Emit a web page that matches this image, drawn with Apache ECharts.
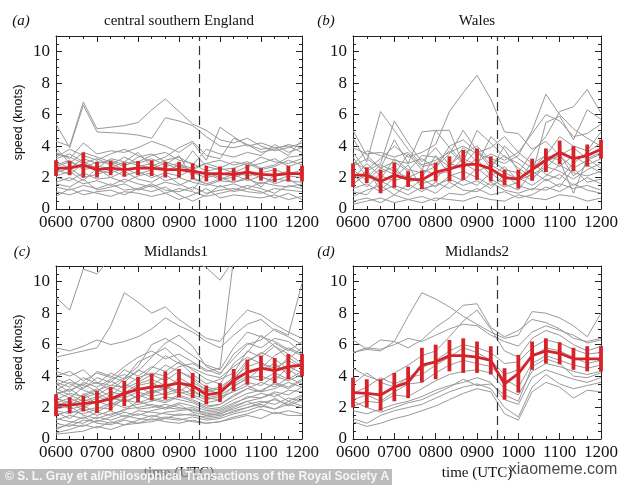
<!DOCTYPE html>
<html>
<head>
<meta charset="utf-8">
<script src="https://cdn.jsdelivr.net/npm/echarts@6/dist/echarts.min.js"></script>
<style>
html,body{margin:0;padding:0;background:#fff;}
#chart{width:630px;height:485px;}
</style>
</head>
<body>
<div id="chart"></div>
<script>
// time of each sample, minutes after midnight (0600 ... 1200 every 20 min)
const times = [360,380,400,420,440,460,480,500,520,540,560,580,600,620,640,660,680,700,720];
const tickLabels = {360:'0600',420:'0700',480:'0800',540:'0900',600:'1000',660:'1100',720:'1200'};
const eclipseMax = 570; // 0930 UTC
const panelTitles = ['central southern England','Wales','Midlands1','Midlands2'];
const panelLetters = ['(a)','(b)','(c)','(d)'];

// red mean series and error half-widths
const meanA = [2.6,2.6,2.8,2.5,2.6,2.5,2.6,2.6,2.5,2.5,2.4,2.25,2.25,2.2,2.35,2.2,2.15,2.25,2.25];
const errA  = [0.5,0.45,0.8,0.5,0.45,0.45,0.45,0.5,0.5,0.5,0.5,0.5,0.45,0.4,0.45,0.4,0.45,0.5,0.5];
const meanB = [2.15,2.15,1.75,2.15,1.9,1.85,2.35,2.55,2.8,2.85,2.55,2.0,1.9,2.5,3.1,3.6,3.2,3.4,3.8];
const errB  = [0.75,0.5,0.75,0.8,0.5,0.6,0.6,0.8,0.95,1.0,0.8,0.5,0.6,0.7,0.75,0.75,0.8,0.7,0.6];
const meanC = [2.15,2.15,2.25,2.35,2.55,2.9,3.15,3.3,3.4,3.55,3.4,2.8,2.95,3.75,4.25,4.5,4.35,4.6,4.7];
const errC  = [0.7,0.5,0.5,0.7,0.75,0.8,0.8,0.85,0.9,0.9,0.8,0.6,0.6,0.7,0.8,0.8,0.8,0.8,0.7];
const meanD = [2.95,2.9,2.8,3.3,3.6,4.7,4.9,5.3,5.3,5.2,5.0,3.5,4.15,5.3,5.6,5.45,5.1,5.1,5.1];
const errD  = [0.95,0.9,1.0,0.9,1.0,1.1,1.1,1.0,1.1,1.0,0.9,1.0,1.2,0.9,0.8,0.7,0.7,0.8,0.8];

// individual station series (grey)
const greyA = [
 [4.3,4.0,6.8,5.1,5.2,5.3,5.5,6.3,7.0,6.2,5.4,5.0,4.4,4.2,4.5,4.0,3.7,3.9,4.2],
 [5.4,3.9,6.6,4.9,4.85,4.8,4.7,4.5,5.8,5.6,5.3,4.6,4.0,3.9,4.1,3.6,3.8,4.1,3.9],
 [3.6,3.2,4.2,3.5,3.7,3.6,3.9,4.3,4.0,3.6,4.2,3.1,5.2,4.6,4.0,4.2,3.9,3.4,4.4],
 [3.3,3.8,3.4,3.1,3.5,3.8,3.4,3.0,3.3,3.9,4.3,3.4,3.2,4.5,4.1,3.8,3.9,4.0,3.6],
 [3.0,2.6,3.2,2.9,3.1,2.8,3.0,3.4,3.6,3.1,2.9,2.4,2.6,3.0,2.8,3.3,3.0,2.9,3.2],
 [2.8,3.1,2.5,2.7,2.6,3.0,2.8,2.6,2.9,2.5,3.7,2.7,2.5,2.6,2.9,2.5,2.7,3.1,2.8],
 [2.5,2.2,2.9,2.4,2.3,2.6,2.2,2.5,2.7,2.9,2.3,2.0,2.2,2.4,2.1,2.3,2.5,2.2,2.5],
 [2.3,2.6,2.0,2.2,2.5,2.1,2.4,2.0,2.3,2.1,2.5,2.2,1.9,2.0,2.3,2.0,1.8,2.1,2.0],
 [2.0,1.8,2.3,1.9,2.0,1.7,2.1,2.3,1.8,2.0,1.7,1.5,1.8,1.7,1.9,1.6,1.9,1.8,1.7],
 [1.7,2.0,1.6,1.8,1.5,1.9,1.6,1.4,1.7,1.5,1.9,1.6,1.4,1.6,1.3,1.7,1.5,1.4,1.6],
 [1.4,1.2,1.5,1.3,1.6,1.2,1.3,1.6,1.2,1.1,1.4,1.0,1.2,1.3,1.1,1.0,1.3,1.2,1.1],
 [1.1,0.9,1.2,1.0,0.8,1.1,1.0,0.8,1.0,0.6,0.9,1.3,0.7,0.9,0.8,0.7,0.9,0.6,0.8],
 [3.5,3.3,2.9,3.2,2.8,3.3,2.9,3.2,2.8,3.4,2.0,1.6,1.9,2.2,1.8,2.1,1.6,1.9,1.4],
 [3.9,2.9,3.6,3.3,3.0,2.7,3.3,3.5,3.0,2.7,2.5,2.9,2.6,2.3,2.7,2.9,3.2,2.7,3.0],
 [2.1,2.4,1.8,2.6,2.0,2.4,1.9,1.7,2.2,1.6,1.2,2.3,2.0,1.7,2.0,1.4,2.2,2.4,2.1],
 [1.6,1.4,1.9,1.2,1.4,1.6,1.2,1.5,1.0,1.3,1.1,0.8,1.0,1.2,1.5,1.3,1.0,1.5,1.3],
 [2.7,3.0,2.6,3.0,2.9,2.5,2.7,2.9,2.4,2.8,2.6,2.9,3.1,2.8,3.0,2.6,2.8,3.3,3.4],
 [0.8,1.3,0.9,1.1,1.2,0.9,1.3,1.1,1.4,0.9,0.5,0.9,1.5,1.1,1.3,1.1,0.7,1.0,0.6],
 [3.2,3.5,3.0,2.6,3.2,3.0,3.6,2.7,3.1,3.3,2.8,3.8,3.5,3.3,3.6,3.4,4.1,3.6,3.9]
];
const greyB = [
 [3.0,2.5,3.2,4.0,3.3,3.6,4.1,6.2,7.4,8.5,7.0,4.9,4.8,3.8,4.3,3.4,3.9,3.2,3.6],
 [4.5,3.0,6.2,5.0,3.8,2.8,3.1,3.6,4.0,3.5,3.2,2.9,3.4,5.0,7.3,6.0,5.1,4.5,4.0],
 [3.6,2.4,2.9,5.6,4.2,3.0,3.9,2.8,3.5,4.0,3.1,2.5,2.3,3.6,4.6,6.2,6.5,7.6,6.1],
 [2.8,3.7,3.4,3.1,2.9,4.9,5.0,3.9,3.0,5.0,4.2,3.3,2.9,2.2,5.5,5.9,4.4,6.3,5.7],
 [1.6,2.2,1.9,3.2,2.5,2.3,2.7,3.5,5.0,3.7,2.6,4.0,3.2,2.6,3.4,4.6,4.0,3.7,4.9],
 [2.5,1.8,2.6,2.2,3.5,2.5,2.2,2.4,3.2,2.8,4.6,3.8,2.4,1.8,3.0,3.4,2.6,3.1,3.5],
 [1.9,2.9,2.1,1.8,2.1,1.6,1.9,2.9,2.6,3.2,2.1,2.7,1.8,2.2,2.7,2.4,1.9,2.5,2.9],
 [1.3,1.6,1.1,1.5,1.2,1.9,1.4,2.1,2.4,2.0,1.5,1.9,2.0,1.5,2.1,2.8,2.3,2.1,2.4],
 [0.8,1.2,1.5,0.9,1.6,1.1,1.7,1.3,1.9,1.5,2.3,1.6,1.2,2.4,1.8,2.2,1.5,2.0,1.6],
 [0.5,0.7,0.4,0.9,0.6,0.8,0.5,1.0,0.9,1.3,0.9,1.1,0.7,0.9,1.4,1.1,1.6,1.2,1.0],
 [5.0,3.4,2.6,3.0,2.4,3.4,3.3,2.7,3.9,3.0,3.5,3.1,3.6,2.9,3.4,3.1,1.0,3.2,2.6],
 [3.9,3.5,3.6,3.3,3.6,2.7,2.9,3.7,2.9,2.4,2.8,2.3,1.9,2.6,3.2,2.7,3.4,2.8,3.2],
 [2.2,1.4,2.3,2.7,1.7,2.0,3.4,2.2,1.8,2.6,1.9,1.4,1.7,3.0,2.2,1.9,2.9,3.6,4.2],
 [1.1,0.9,1.8,1.3,0.9,1.4,1.0,1.7,1.2,1.1,1.7,1.2,1.0,1.3,1.2,1.6,1.3,1.5,1.2],
 [0.3,0.5,0.7,0.4,0.6,0.4,0.7,0.6,0.5,0.8,0.6,0.5,0.9,0.7,0.6,0.9,0.8,0.5,0.7],
 [2.7,3.2,2.6,4.4,2.9,3.2,2.6,4.0,4.4,3.6,3.9,4.6,3.6,4.8,6.0,5.6,4.6,4.8,5.4],
 [3.3,2.0,2.8,2.4,2.0,2.4,5.0,5.0,2.8,3.8,2.8,3.4,2.6,2.0,2.6,3.5,2.1,2.8,2.3],
 [1.5,2.5,1.2,2.0,2.8,1.3,1.5,1.9,1.5,1.8,1.3,2.2,1.5,1.2,1.9,1.4,2.6,1.7,1.9]
];
const greyC = [
 [9.0,8.2,10.8,10.5,11.5,12.0,12.0,11.6,11.2,11.8,11.3,10.9,10.1,11.4,12.0,12.0,12.0,12.0,12.0],
 [5.2,5.4,5.6,5.8,7.2,9.3,8.7,8.0,8.4,7.6,7.0,6.4,6.2,7.3,8.2,7.9,7.3,6.8,6.4],
 [5.8,5.6,5.9,6.3,6.0,6.2,6.5,7.0,7.7,7.2,6.8,6.2,5.8,6.6,7.3,7.6,6.9,6.5,6.0],
 [3.0,2.6,3.3,3.6,3.1,3.8,4.3,5.2,6.1,6.6,5.9,4.6,4.2,5.1,6.0,6.3,7.0,6.6,9.9],
 [2.5,2.9,2.7,3.1,3.4,3.3,3.9,4.2,4.0,4.6,4.8,4.3,4.5,11.5,12,12,12,12,12],
 [4.0,4.3,3.7,4.2,3.9,4.6,5.2,5.6,5.1,5.4,4.9,4.4,4.1,5.4,6.1,5.8,6.4,6.2,5.5],
 [3.6,3.3,3.9,3.5,4.2,3.8,4.9,5.3,5.8,5.0,4.4,3.8,3.5,4.8,5.5,6.6,5.9,5.1,5.8],
 [3.4,3.8,3.2,3.9,3.6,4.4,4.0,4.6,4.3,4.9,4.1,3.5,3.8,4.2,5.6,5.2,5.9,5.4,4.8],
 [2.9,3.1,3.5,3.0,3.7,3.2,3.6,4.1,3.7,4.3,3.8,3.1,3.3,3.9,4.6,4.9,4.3,5.2,4.6],
 [2.6,2.3,2.8,3.2,2.7,3.5,3.1,3.4,4.0,3.5,3.3,2.8,3.0,3.6,4.2,4.4,4.8,4.1,5.0],
 [2.3,2.6,2.2,2.6,3.0,2.8,3.3,2.9,3.2,3.7,3.0,2.6,2.8,3.3,3.9,4.0,3.7,4.6,4.2],
 [2.0,2.2,2.5,2.3,2.6,2.4,2.7,3.1,2.8,3.0,2.7,2.3,2.5,3.1,3.6,3.4,4.0,3.7,4.1],
 [1.8,1.6,2.0,2.4,2.1,2.5,2.3,2.6,2.4,2.8,2.5,2.1,2.2,2.8,3.2,3.6,3.3,3.9,3.5],
 [1.5,1.8,1.6,1.9,2.3,2.0,2.2,2.4,2.7,2.5,2.3,1.9,2.0,2.5,2.9,3.1,3.5,3.2,3.7],
 [1.2,1.5,1.3,1.7,1.5,1.9,2.0,2.2,2.0,2.3,2.1,1.8,1.9,2.3,2.6,2.9,2.7,3.1,3.0],
 [1.0,0.8,1.2,1.1,1.4,1.7,1.5,1.8,2.0,1.9,2.0,1.6,1.7,2.1,2.4,2.6,3.0,2.8,3.3],
 [0.7,0.9,0.8,1.2,1.0,1.3,1.6,1.4,1.7,1.8,1.9,1.5,1.6,1.9,2.2,2.4,2.2,2.6,2.4],
 [0.4,0.6,0.9,0.7,1.1,0.9,1.2,1.5,1.3,1.6,1.5,1.4,1.5,1.7,2.0,2.3,2.5,2.2,2.7],
 [0.3,0.4,0.5,0.8,0.6,0.9,1.0,1.1,1.3,1.2,1.4,1.2,1.3,1.6,1.8,2.1,1.9,2.4,2.1],
 [3.8,3.5,3.1,2.8,3.3,2.9,3.5,3.8,3.4,3.0,3.6,3.1,2.9,3.7,4.9,5.5,5.1,4.4,3.9],
 [3.2,2.8,2.4,2.7,2.4,3.0,2.6,3.0,3.3,2.9,3.1,2.6,2.5,3.4,3.8,4.5,5.3,5.8,5.4],
 [2.7,2.0,2.9,2.2,2.8,2.3,2.8,2.5,2.3,2.7,2.4,2.0,2.2,2.7,3.2,3.0,3.6,3.3,3.8],
 [2.1,2.4,1.8,2.0,1.9,2.6,1.9,2.0,2.2,2.0,1.8,1.7,1.8,2.2,2.7,2.6,2.9,2.4,2.8],
 [1.7,1.3,1.9,1.5,1.8,1.4,1.8,1.7,1.6,1.5,1.6,1.3,1.4,1.8,2.0,2.2,1.9,2.2,2.0],
 [1.3,1.1,1.0,1.4,1.2,1.5,1.3,1.2,1.4,1.3,1.1,1.0,1.1,1.4,1.6,1.9,1.6,1.8,1.6],
 [4.3,4.0,4.4,3.6,3.4,3.9,4.6,6.0,6.4,5.9,5.3,4.7,4.4,5.8,6.8,6.5,6.2,5.7,5.3],
 [3.1,3.6,3.4,4.3,4.0,3.6,4.4,4.0,4.7,4.3,3.9,3.3,3.1,4.0,5.0,5.4,6.1,5.6,6.2],
 [2.4,1.9,2.1,1.7,2.2,2.6,3.0,2.7,2.9,3.2,2.8,2.5,2.7,3.0,3.4,3.0,3.2,3.6,3.3],
 [0.6,1.0,1.4,1.0,0.9,1.2,1.0,1.3,1.1,1.0,1.2,1.0,1.1,1.3,1.5,1.3,1.7,1.5,1.5],
 [1.9,2.1,1.5,1.3,1.6,1.8,2.4,2.1,1.9,2.2,1.7,1.5,1.6,2.0,2.4,2.0,2.6,2.1,2.5],
 [3.5,3.0,3.6,3.3,3.8,4.1,3.7,4.5,5.3,4.8,4.5,4.1,3.9,4.6,5.2,4.8,4.5,5.0,4.5],
 [2.8,3.2,2.6,2.9,2.5,2.7,3.4,3.6,3.1,3.9,3.4,3.0,3.2,3.5,4.0,3.7,4.2,3.8,4.3]
];
const greyD = [
 [6.3,5.7,6.3,6.2,5.8,6.3,7.1,7.7,8.5,8.6,7.1,6.5,6.9,7.6,7.4,7.0,6.4,6.2,6.4],
 [5.5,5.7,5.6,6.2,7.8,9.3,8.9,8.4,7.8,7.3,6.8,6.4,6.6,8.1,8.0,7.7,7.2,6.5,8.0],
 [5.5,5.8,5.7,6.0,6.4,6.2,6.6,7.0,7.3,7.2,6.6,6.2,5.9,6.8,7.2,6.9,6.6,6.1,6.3],
 [4.5,4.0,3.7,4.2,4.7,5.3,5.6,6.5,7.5,8.2,7.0,5.6,5.2,6.4,6.9,6.6,6.0,5.6,5.9],
 [3.5,4.2,3.6,3.3,3.9,4.5,5.0,5.6,6.0,5.8,5.5,4.8,4.9,5.8,6.3,6.1,5.7,5.4,5.5],
 [2.9,3.3,3.9,3.5,3.9,4.1,4.7,5.2,5.8,5.5,5.0,4.1,4.4,5.2,5.8,5.6,5.2,4.8,5.0],
 [2.5,2.8,2.4,3.0,3.5,3.6,4.2,4.7,5.0,4.8,4.6,3.8,3.3,4.8,5.3,5.0,4.7,4.5,4.7],
 [2.1,2.4,2.3,2.8,2.7,3.2,3.7,4.1,4.3,4.4,4.2,3.2,2.8,4.3,4.8,4.6,4.3,4.1,4.3],
 [1.8,1.6,1.9,2.2,2.4,2.7,3.1,3.4,3.6,3.9,3.6,2.5,2.2,3.9,4.4,4.1,3.8,3.6,3.9],
 [1.3,1.0,1.5,1.8,2.0,2.2,2.6,3.0,3.3,3.5,3.2,2.0,1.4,3.3,4.1,3.5,3.2,3.4,3.6],
 [1.1,0.8,1.0,1.3,1.5,1.8,2.1,2.5,2.9,3.2,3.0,1.6,1.2,3.0,3.6,3.3,2.6,3.1,3.0],
 [2.4,2.0,1.7,2.0,2.3,2.5,2.9,3.3,3.8,3.4,3.5,2.8,2.4,4.6,5.1,4.8,4.0,3.9,4.2]
];

const panels = [
  {grey: greyA, mean: meanA, err: errA, box: {left:56, top:36, width:246, height:173}, showY: true, showXName: false},
  {grey: greyB, mean: meanB, err: errB, box: {left:353, top:36, width:248, height:173}, showY: false, showXName: false},
  {grey: greyC, mean: meanC, err: errC, box: {left:56, top:266, width:246, height:173}, showY: true, showXName: true},
  {grey: greyD, mean: meanD, err: errD, box: {left:353, top:266, width:248, height:173}, showY: false, showXName: true}
];

const RED = '#d6232a';
const GREY = '#999999';
const SERIF = '"Liberation Serif", "DejaVu Serif", serif';
const SANS = '"Liberation Sans", Arial, sans-serif';

const grid = [], xAxis = [], yAxis = [], series = [];
const tickCommon = {show: true, inside: true, length: 6, lineStyle: {color: '#222', width: 1}};
const lineCommon = {show: true, onZero: false, lineStyle: {color: '#222', width: 1}};

panels.forEach((p, i) => {
  grid.push(Object.assign({}, p.box));
  const baseX = {
    type: 'value', gridIndex: i, min: 360, max: 720, interval: 60,
    axisLine: lineCommon, axisTick: tickCommon,
    minorTick: {show: true, splitNumber: 3, length: 3, lineStyle: {color: '#222', width: 1}},
    splitLine: {show: false}, minorSplitLine: {show: false}
  };
  xAxis.push(Object.assign({}, baseX, {
    position: 'bottom',
    axisLabel: {show: true, margin: 5, fontFamily: SERIF, fontSize: 17, color: '#111',
      formatter: v => tickLabels[v] || ''},
    name: p.showXName ? 'time (UTC)' : '', nameLocation: 'middle', nameGap: 27,
    nameTextStyle: {fontFamily: SERIF, fontSize: 15, color: '#111'}
  }));
  xAxis.push(Object.assign({}, baseX, {position: 'top', axisLabel: {show: false}}));
  const baseY = {
    type: 'value', gridIndex: i, min: 0, max: 11, interval: 2,
    axisLine: lineCommon, axisTick: tickCommon,
    minorTick: {show: true, splitNumber: 4, length: 3, lineStyle: {color: '#222', width: 1}},
    splitLine: {show: false}, minorSplitLine: {show: false}
  };
  yAxis.push(Object.assign({}, baseY, {
    position: 'left',
    axisLabel: {show: true, margin: 6, fontFamily: SERIF, fontSize: 17, color: '#111',
      showMaxLabel: false},
    name: p.showY ? 'speed (knots)' : '', nameLocation: 'middle', nameGap: 31, nameRotate: 90,
    nameTextStyle: {fontFamily: SANS, fontSize: 12.5, color: '#111'}
  }));
  yAxis.push(Object.assign({}, baseY, {position: 'right', axisLabel: {show: false}}));

  p.grey.forEach(vals => {
    series.push({
      type: 'line', xAxisIndex: 2*i, yAxisIndex: 2*i, silent: true,
      data: times.map((t, k) => [t, vals[k]]),
      showSymbol: false, symbol: 'none', clip: true,
      lineStyle: {color: GREY, width: 1}, z: 2, animation: false
    });
  });
  series.push({
    type: 'line', xAxisIndex: 2*i, yAxisIndex: 2*i, silent: true,
    data: times.map((t, k) => [t, p.mean[k]]),
    showSymbol: false, symbol: 'none',
    lineStyle: {color: RED, width: 2.8}, z: 5, animation: false,
    markLine: {
      silent: true, symbol: 'none', animation: false,
      label: {show: false},
      lineStyle: {color: '#333', width: 1.2, type: [9, 5]},
      data: [{xAxis: eclipseMax}]
    }
  });
  series.push({
    type: 'custom', xAxisIndex: 2*i, yAxisIndex: 2*i, silent: true, clip: false,
    data: times.map((t, k) => [t, p.mean[k] - p.err[k], p.mean[k] + p.err[k]]),
    encode: {x: 0, y: [1, 2]}, z: 6, animation: false,
    renderItem: (params, api) => {
      const a = api.coord([api.value(0), api.value(1)]);
      const b = api.coord([api.value(0), api.value(2)]);
      return {type: 'line', shape: {x1: a[0], y1: a[1], x2: b[0], y2: b[1]},
        style: {stroke: RED, lineWidth: 3.8}};
    }
  });
});

const graphic = [];
const titlePos = [[179, 21], [477, 21], [176, 252], [477, 252]];
const letterPos = [[21, 21], [326, 21], [22, 252], [326, 252]];
panelTitles.forEach((t, i) => {
  graphic.push({type: 'text', x: titlePos[i][0], y: titlePos[i][1], silent: true,
    style: {text: t, fontFamily: SERIF, fontSize: 15, fill: '#111', textAlign: 'center', textVerticalAlign: 'middle'}});
  graphic.push({type: 'text', x: letterPos[i][0], y: letterPos[i][1], silent: true,
    style: {text: panelLetters[i], fontFamily: SERIF, fontStyle: 'italic', fontSize: 15, fill: '#111', textAlign: 'center', textVerticalAlign: 'middle'}});
});
graphic.push({type: 'rect', shape: {x: 0, y: 469, width: 392, height: 16}, silent: true, z: 100,
  style: {fill: 'rgba(160,160,160,0.7)'}});
graphic.push({type: 'text', x: 5, y: 477, silent: true, z: 101,
  style: {text: '\u00A9 S. L. Gray et al/Philosophical Transactions of the Royal Society A',
    fontFamily: SANS, fontWeight: 'bold', fontSize: 12, fill: '#f6f6f6', textVerticalAlign: 'middle'}});
graphic.push({type: 'text', x: 563, y: 470, silent: true, z: 101,
  style: {text: 'xiaomeme.com', fontFamily: SANS, fontSize: 16, fill: '#4a4a4a', textAlign: 'center', textVerticalAlign: 'middle'}});

const chart = echarts.init(document.getElementById('chart'), null, {renderer: 'canvas'});
chart.setOption({
  animation: false,
  backgroundColor: '#ffffff',
  grid, xAxis, yAxis, series, graphic
});
</script>
</body>
</html>
